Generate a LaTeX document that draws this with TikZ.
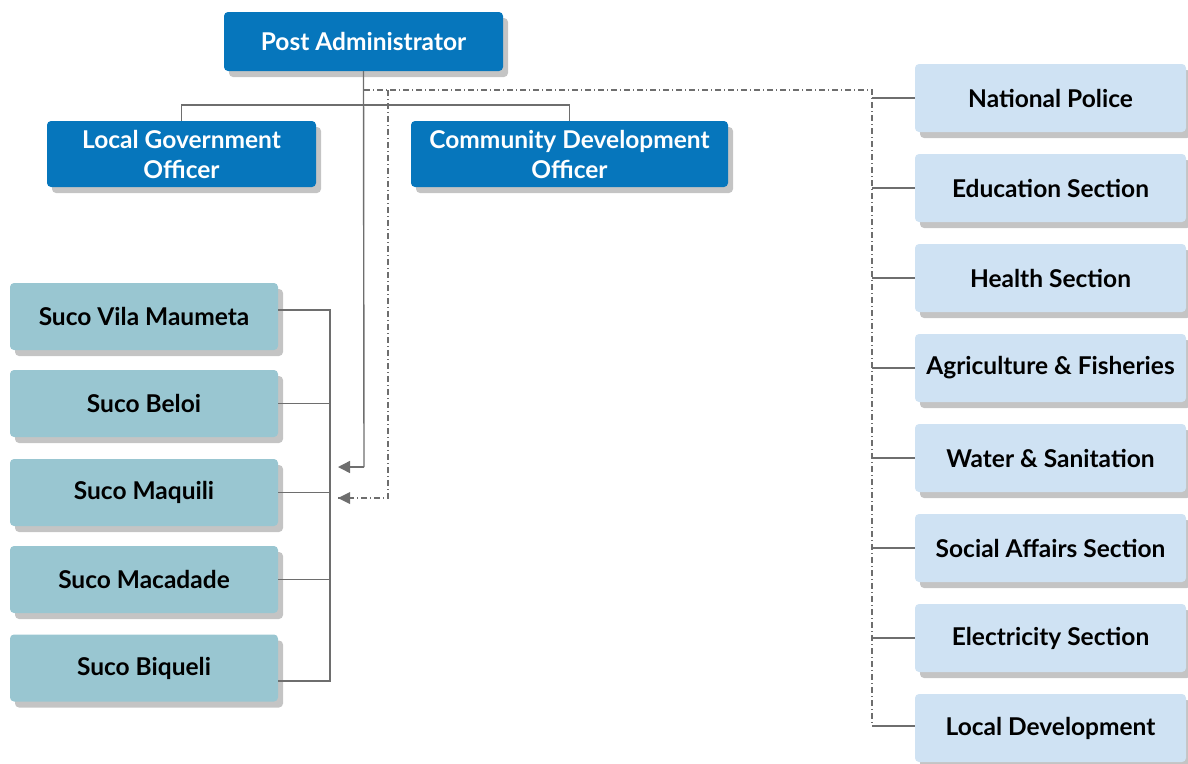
\documentclass[tikz,border=0pt]{standalone}
\usepackage{fontspec}
\setmainfont{Lato}[UprightFont=* Bold]
\usetikzlibrary{shadows,arrows.meta}
\definecolor{headblue}{HTML}{0676BC}
\definecolor{sucoteal}{HTML}{99C6D1}
\definecolor{paleblue}{HTML}{CFE2F3}
\definecolor{shadowgray}{HTML}{C4C4C4}
\definecolor{linegray}{HTML}{6E6E6E}
\tikzset{
  box/.style={rounded corners=4pt, align=center, inner sep=0pt,
    font=\fontsize{24.5}{30}\selectfont,
    drop shadow={shadow xshift=5pt, shadow yshift=-6pt, fill=shadowgray, opacity=1}},
  headbox/.style={box, fill=headblue, text=white},
  sucobox/.style={box, fill=sucoteal, text=black, minimum width=268pt, minimum height=67pt},
  sectbox/.style={box, fill=paleblue, text=black, minimum width=271pt, minimum height=68pt},
  link/.style={draw=linegray, line width=1.4pt},
  dotlink/.style={draw=linegray, line width=1.1pt, dash pattern=on 6pt off 3pt on 1pt off 3pt},
  tip/.style={-{Triangle[length=12pt,width=12pt]}}
}
\begin{document}
\begin{tikzpicture}[x=1pt,y=-1pt]
\useasboundingbox (0,0) rectangle (1188,763);

% top level
\node[headbox, minimum width=279pt, minimum height=59pt] (pa) at (363.5,41.5) {Post Administrator};
\node[headbox, minimum width=269pt, minimum height=66pt] (lgo) at (181.5,154) {Local Government\\Officer};
\node[headbox, minimum width=317pt, minimum height=66pt] (cdo) at (569.5,154) {Community Development\\Officer};

% sucos
\node[sucobox] (s1) at (144,316.5) {Suco Vila Maumeta};
\node[sucobox] (s2) at (144,403.5) {Suco Beloi};
\node[sucobox] (s3) at (144,492.5) {Suco Maquili};
\node[sucobox] (s4) at (144,579.5) {Suco Macadade};
\node[sucobox] (s5) at (144,668) {Suco Biqueli};

% line sections
\node[sectbox] (r1) at (1050.5,98) {National Police};
\node[sectbox] (r2) at (1050.5,188) {Education Section};
\node[sectbox] (r3) at (1050.5,278) {Health Section};
\node[sectbox] (r4) at (1050.5,368) {Agriculture \& Fisheries};
\node[sectbox] (r5) at (1050.5,458) {Water \& Sanitation};
\node[sectbox] (r6) at (1050.5,548) {Social Affairs Section};
\node[sectbox] (r7) at (1050.5,638) {Electricity Section};
\node[sectbox] (r8) at (1050.5,728) {Local Development};

% junction points
\coordinate (split) at (364,105);
\coordinate (trunk) at (364,467);
\coordinate (arrA) at (338,467);
\coordinate (dstart) at (364,90);
\coordinate (dcorner) at (872,90);
\coordinate (dend) at (872,726);
\coordinate (dtop) at (388,90);
\coordinate (dbend) at (388,498);
\coordinate (arrB) at (338,498);
\coordinate (bustop) at (330,310);
\coordinate (busbot) at (330,681);

% solid hierarchy
\draw[link] (pa.south) -- (trunk);
\draw[link, tip] (trunk) -- (arrA);
\draw[link] (lgo.north) |- (split) -| (cdo.north);

% suco bus
\draw[link] ([yshift=6.5pt]s1.east) -- (bustop) -- (busbot) -- ([yshift=-13pt]s5.east);
\draw[link] (s2.east) -- (s2.east -| bustop);
\draw[link] (s3.east) -- (s3.east -| bustop);
\draw[link] (s4.east) -- (s4.east -| bustop);

% coordination lines
\draw[dotlink] (dstart) -- (dcorner) -- (dend);
\draw[dotlink] (dtop) -- (dbend) -- (arrB);
\fill[linegray] (arrB) -- ++(12,-6) -- ++(0,12) -- cycle;
\foreach \r in {r1,r2,r3,r4,r5,r6,r7} {
  \draw[link] (\r.west -| dcorner) -- (\r.west);
}
\draw[link] (dend) -- ([yshift=2pt]r8.west);
\end{tikzpicture}
\end{document}
